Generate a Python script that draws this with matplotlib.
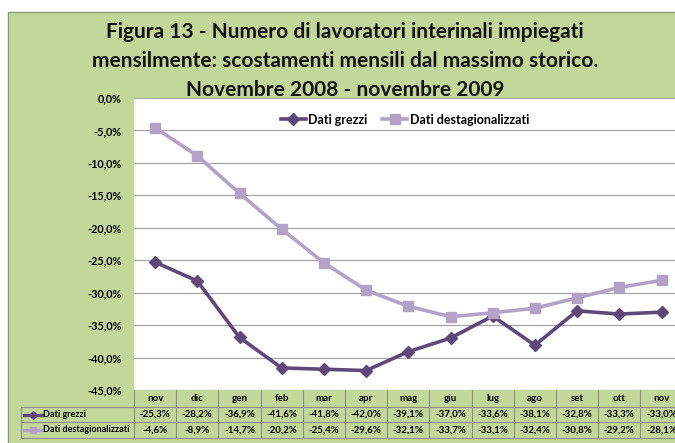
import matplotlib
matplotlib.use("Agg")
import matplotlib.pyplot as plt
import matplotlib.transforms as mtransforms
from matplotlib.lines import Line2D
from matplotlib.patches import Rectangle

plt.rcParams["font.family"] = ["Lato", "DejaVu Sans"]

W, H = 675, 443

months = ["nov", "dic", "gen", "feb", "mar", "apr", "mag", "giu", "lug", "ago", "set", "ott", "nov"]
grezzi = [-25.3, -28.2, -36.9, -41.6, -41.8, -42.0, -39.1, -37.0, -33.6, -38.1, -32.8, -33.3, -33.0]
destag = [-4.6, -8.9, -14.7, -20.2, -25.4, -29.6, -32.1, -33.7, -33.1, -32.4, -30.8, -29.2, -28.1]
series_names = ["Dati grezzi", "Dati destagionalizzati"]
yticks = [0, -5, -10, -15, -20, -25, -30, -35, -40, -45]
title_lines = ["Figura 13 - Numero di lavoratori interinali impiegati",
               "mensilmente: scostamenti mensili dal massimo storico.",
               "Novembre 2008 - novembre 2009"]

GREEN = "#c4d79b"
DARK = "#5f497a"
LIGHT = "#b3a2c7"
GRID = "#a6a6a6"


def fmt(v):
    return f"{v:.1f}%".replace(".", ",")


fig = plt.figure(figsize=(W / 100, H / 100), dpi=100)

# background in pixel coordinates
bg = fig.add_axes([0, 0, 1, 1])
bg.set_xlim(0, W)
bg.set_ylim(H, 0)
bg.axis("off")
bg.add_patch(Rectangle((8, 12), W, H, facecolor=GREEN, edgecolor="#8c9a78", linewidth=1))
for k, line in enumerate(title_lines):
    bg.text(345, 32 + 29 * k, line, ha="center", va="center", fontsize=15,
            fontweight="bold", color="#111111")

# plot area
px_left, px_top, px_bottom, col_w = 134, 98, 390, 42.2
ax = fig.add_axes([px_left / W, (H - px_bottom) / H, 13 * col_w / W, (px_bottom - px_top) / H])
ax.set_facecolor("white")
x = list(range(len(months)))
ax.plot(x, grezzi, color=DARK, lw=2.6, marker="D", ms=6, label=series_names[0], zorder=3)
ax.plot(x, destag, color=LIGHT, lw=2.6, marker="s", ms=7.5, label=series_names[1], zorder=3)
ax.set_xlim(-0.5, len(months) - 0.5)
ax.set_ylim(-45, 0)
ax.set_yticks(yticks)
ax.set_yticklabels([fmt(v) for v in yticks], fontsize=7.8, fontweight="bold")
ax.tick_params(axis="y", length=0, pad=9)
ax.set_xticks([])
ax.grid(axis="y", color=GRID, lw=0.9)
ax.set_axisbelow(True)
for s in ax.spines.values():
    s.set_visible(False)
ax.legend(loc="upper center", bbox_to_anchor=(0.494, 0.985), ncol=2, frameon=False,
          handlelength=2.0, handletextpad=0.2, columnspacing=1.2,
          prop={"weight": "bold", "size": 9})

# data table under the plot
tr = mtransforms.blended_transform_factory(ax.transData, bg.transData)
row_y = [390, 407, 422, 438]
x_edges = [i - 0.5 for i in range(len(months) + 1)]
for xe in x_edges:
    bg.plot([xe, xe], [row_y[0], row_y[-1]], color="#8c8c8c", lw=0.8, transform=tr, clip_on=False)
for yy in row_y[1:]:
    bg.plot([21, W], [yy, yy], color="#8c8c8c", lw=0.8)
bg.plot([21, 21], [row_y[1], row_y[-1]], color="#8c8c8c", lw=0.8)

for i, m in enumerate(months):
    bg.text(i, (row_y[0] + row_y[1]) / 2, m, transform=tr, ha="center", va="center",
            fontsize=7, fontweight="bold")
    bg.text(i, (row_y[1] + row_y[2]) / 2, fmt(grezzi[i]), transform=tr, ha="center",
            va="center", fontsize=7, fontweight="bold")
    bg.text(i, (row_y[2] + row_y[3]) / 2, fmt(destag[i]), transform=tr, ha="center",
            va="center", fontsize=7, fontweight="bold")

for k, (name, col, mk, ms) in enumerate(zip(series_names, [DARK, LIGHT], ["D", "s"], [4, 5])):
    yc = (row_y[k + 1] + row_y[k + 2]) / 2
    bg.add_line(Line2D([24, 42], [yc, yc], color=col, lw=2.4))
    bg.add_line(Line2D([33], [yc], color=col, marker=mk, ms=ms))
    bg.text(43, yc, name, ha="left", va="center", fontsize=6.5, fontweight="bold")

fig.savefig("out.png", dpi=100)
